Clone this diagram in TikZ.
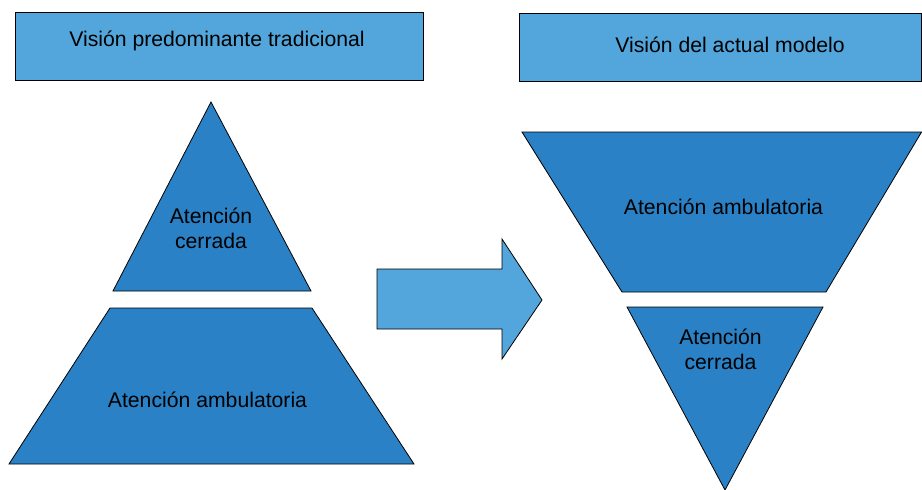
\documentclass[tikz,border=0pt]{standalone}
\usepackage{fontspec}
\setmainfont{Liberation Sans}
\definecolor{boxblue}{HTML}{52A6DC}
\definecolor{shapeblue}{HTML}{2B81C5}
\begin{document}
\begin{tikzpicture}[x=1pt,y=-1pt,
  shp/.style={draw=black,line width=0.8pt,fill=shapeblue,line join=miter},
  lbox/.style={draw=black,line width=0.8pt,fill=boxblue},
  lbl/.style={font=\fontsize{21.2}{25}\selectfont,align=center,text=black,inner sep=0pt}]
\useasboundingbox (0,0) rectangle (922,490);
% top boxes
\draw[lbox] (15,12) rectangle (423,80);
\node[lbl] (t1) at (217,41) {Visión predominante tradicional};
\draw[lbox] (519,13) rectangle (921.6,81);
\node[lbl] (t2) at (730,45) {Visión del actual modelo};
% left pyramid
\draw[shp] (211,102) -- (311,291) -- (113,291) -- cycle;
\node[lbl] (lc) at (211,228) {Atención\\cerrada};
\draw[shp] (110,308) -- (312,308) -- (414,464) -- (9,464) -- cycle;
\node[lbl] (la) at (207.5,400) {Atención ambulatoria};
% arrow
\draw[lbox,line join=miter] (377,269) -- (502,269) -- (502,239) -- (542,300) -- (502,359) -- (502,329) -- (377,329) -- cycle;
% right inverted pyramid
\draw[shp] (522,132) -- (921.6,132) -- (826,292) -- (622,292) -- cycle;
\node[lbl] (ra) at (723.5,207) {Atención ambulatoria};
\draw[shp] (627,307) -- (823,307) -- (725,490) -- cycle;
\node[lbl] (rc) at (720.5,349) {Atención\\cerrada};
\end{tikzpicture}
\end{document}
